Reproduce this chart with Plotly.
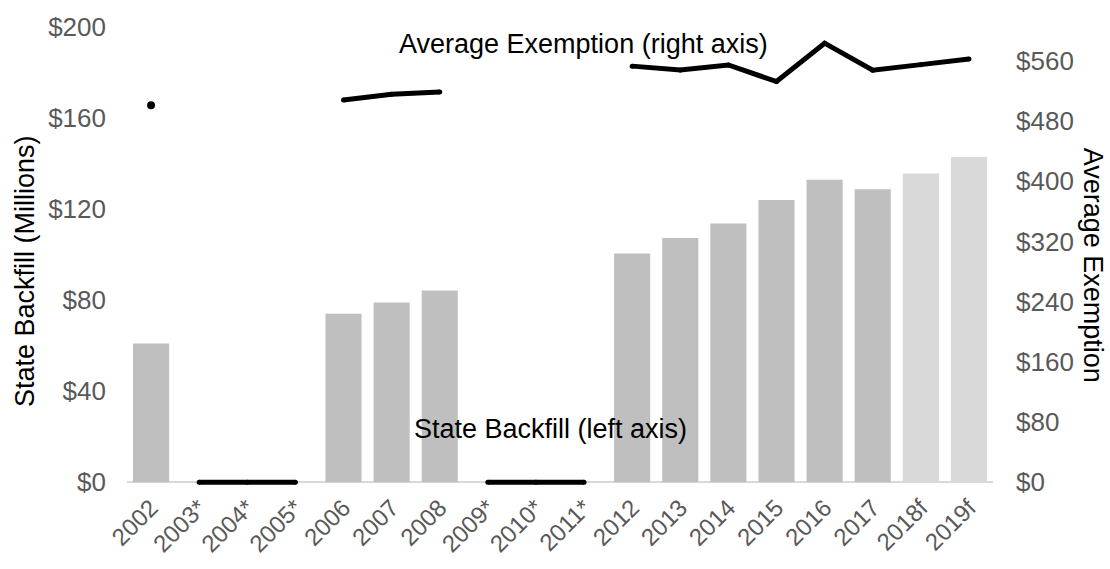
import plotly.graph_objects as go

# Fiscal years shown on the category axis (* = no backfill, f = forecast)
years = ["2002", "2003*", "2004*", "2005*", "2006", "2007", "2008", "2009*",
         "2010*", "2011*", "2012", "2013", "2014", "2015", "2016", "2017",
         "2018f", "2019f"]

# State backfill, millions of dollars (left axis)
backfill = [61, 0, 0, 0, 74, 79, 84.3, 0, 0, 0, 100.5, 107.3, 113.7, 124,
            132.9, 128.7, 135.6, 142.9]

# Average exemption, dollars (right axis); None where no value was reported
avg_exemption = [501, None, None, None, 508, 515.5, 518.5, None, None, None,
                 553, 548, 554.5, 532.5, 583.5, 547.5, 555, 562.5]

left_ticks = [0, 40, 80, 120, 160, 200]
right_ticks = [0, 80, 160, 240, 320, 400, 480, 560]

FONT = "Liberation Sans, Arial, sans-serif"
TICK_GRAY = "#595959"

LEFT_MAX = 200
RIGHT_MAX = 605
PAD = 2.5  # small room below zero so the heavy zero line is not clipped

bar_colors = ["#D9D9D9" if y.endswith("f") else "#BFBFBF" for y in years]

# Years without backfill are marked by a heavy line along zero
zero_line = [0 if v == 0 else None for v in backfill]


def isolated(values, i):
    prev_ok = i > 0 and values[i - 1] is not None
    next_ok = i < len(values) - 1 and values[i + 1] is not None
    return values[i] is not None and not prev_ok and not next_ok


lone_x = [years[i] for i in range(len(years)) if isolated(avg_exemption, i)]
lone_y = [avg_exemption[i] for i in range(len(years)) if isolated(avg_exemption, i)]

fig = go.Figure()

fig.add_trace(go.Bar(
    x=years, y=backfill, marker_color=bar_colors, marker_line_width=0,
    name="State Backfill", yaxis="y",
))

# small round markers at each vertex give the heavy lines rounded ends/joins
fig.add_trace(go.Scatter(
    x=years, y=zero_line, mode="lines+markers", yaxis="y",
    line=dict(color="black", width=5), connectgaps=False,
    marker=dict(color="black", size=5),
    name="No backfill",
))

fig.add_trace(go.Scatter(
    x=years, y=avg_exemption, mode="lines+markers", yaxis="y2",
    line=dict(color="black", width=5), connectgaps=False,
    marker=dict(color="black", size=5),
    name="Average Exemption",
))

fig.add_trace(go.Scatter(
    x=lone_x, y=lone_y, mode="markers", yaxis="y2",
    marker=dict(color="black", size=8), name="Average Exemption",
))

fig.update_layout(
    width=1110, height=569,
    margin=dict(l=127, r=117, t=25, b=72),
    paper_bgcolor="white", plot_bgcolor="white",
    showlegend=False, bargap=0.25,
    font=dict(family=FONT, size=26, color=TICK_GRAY),
    xaxis=dict(
        type="category", range=[-0.5, len(years) - 0.5],
        tickangle=-45, showgrid=False, showline=False, ticks="",
        tickfont=dict(size=24, color=TICK_GRAY),
    ),
    yaxis=dict(
        range=[-PAD, LEFT_MAX], tickvals=left_ticks,
        ticktext=[f"${v}" for v in left_ticks],
        showgrid=False, zeroline=True, zerolinecolor="#D9D9D9",
        zerolinewidth=2, showline=False, ticks="",
        ticklabelstandoff=20,
        tickfont=dict(size=26, color=TICK_GRAY),
    ),
    yaxis2=dict(
        range=[-PAD * RIGHT_MAX / LEFT_MAX, RIGHT_MAX], tickvals=right_ticks,
        ticktext=[f"${v}" for v in right_ticks],
        overlaying="y", side="right",
        showgrid=False, zeroline=False, showline=False, ticks="",
        ticklabelstandoff=22,
        tickfont=dict(size=26, color=TICK_GRAY),
    ),
    annotations=[
        dict(text="Average Exemption (right axis)", xref="paper", yref="paper",
             x=0.527, y=0.963, xanchor="center", yanchor="middle",
             showarrow=False,
             font=dict(family=FONT, size=27, color="black")),
        dict(text="State Backfill (left axis)", xref="paper", yref="paper",
             x=0.489, y=0.127, xanchor="center", yanchor="middle",
             showarrow=False,
             font=dict(family=FONT, size=27, color="black")),
        dict(text="State Backfill (Millions)", xref="paper", yref="paper",
             x=-0.117, y=0.47, xanchor="center", yanchor="middle",
             textangle=-90, showarrow=False,
             font=dict(family=FONT, size=27, color="black")),
        dict(text="Average Exemption", xref="paper", yref="paper",
             x=1.115, y=0.483, xanchor="center", yanchor="middle",
             textangle=90, showarrow=False,
             font=dict(family=FONT, size=27, color="black")),
    ],
)

fig.write_html("out.html")
